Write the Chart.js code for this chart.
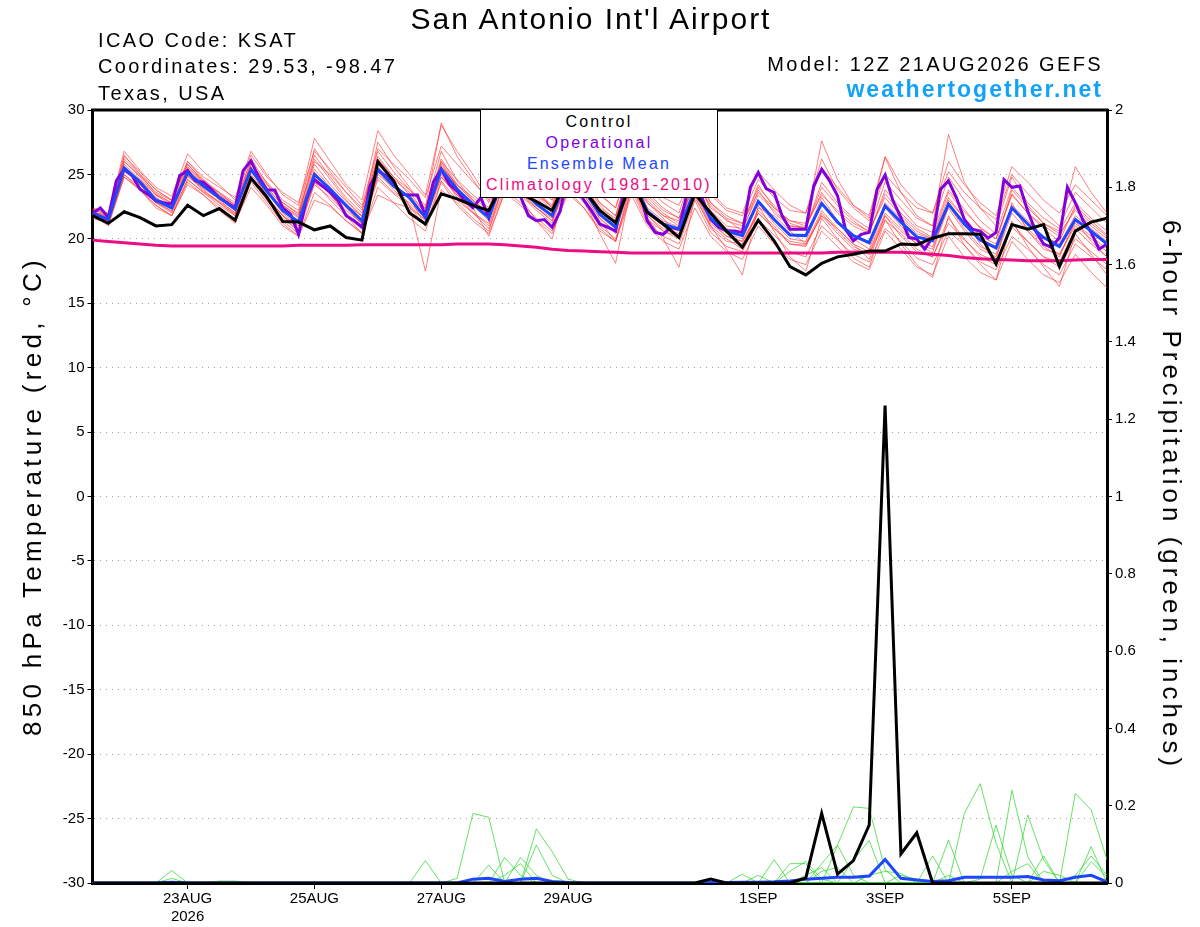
<!DOCTYPE html>
<html>
<head>
<meta charset="utf-8">
<title>San Antonio Int'l Airport - GEFS</title>
<script src="https://cdn.jsdelivr.net/npm/chart.js@4.4.1/dist/chart.umd.min.js"></script>
<style>
  html, body { margin: 0; padding: 0; background: #fff; }
  body { width: 1200px; height: 927px; position: relative; overflow: hidden;
         font-family: "Liberation Sans", Arial, sans-serif; }
  #c { position: absolute; left: 0; top: 0; }
  .txt { position: absolute; white-space: nowrap; color: #000; }
  #title { left: 0; width: 1182px; text-align: center; top: 1px; font-size: 30px; line-height: 36px; letter-spacing: 2px; }
  .info { left: 98px; font-size: 20px; line-height: 26px; letter-spacing: 2.4px; }
  #model { right: 97px; top: 51px; font-size: 20px; line-height: 26px; letter-spacing: 2.4px; }
  #site { right: 97px; top: 75px; font-size: 23px; line-height: 28px; font-weight: bold; color: #12a2f8; letter-spacing: 2px; }
  #legend { position: absolute; left: 480px; top: 109px; width: 238px; height: 89px;
            border: 1px solid #000; background: #fff; text-align: center;
            font-size: 16px; line-height: 21px; letter-spacing: 2.2px; padding-top: 1px; box-sizing: border-box; }
  .axt { position: absolute; white-space: nowrap; color: #000; font-size: 26px; line-height: 30px; }
  #ytitle { left: 32px; top: 496px; letter-spacing: 4.3px; transform: translate(-50%, -50%) rotate(-90deg); }
  #y2title { left: 1172px; top: 495px; letter-spacing: 4px; transform: translate(-50%, -50%) rotate(90deg); }
</style>
</head>
<body>
<canvas id="c" width="1200" height="927"></canvas>

<div class="txt" id="title">San Antonio Int'l Airport</div>
<div class="txt info" style="top:27px">ICAO Code: KSAT</div>
<div class="txt info" style="top:53px">Coordinates: 29.53, -98.47</div>
<div class="txt info" style="top:80px">Texas, USA</div>
<div class="txt" id="model">Model: 12Z 21AUG2026 GEFS</div>
<div class="txt" id="site">weathertogether.net</div>
<div id="legend">
  <div style="color:#000">Control</div>
  <div style="color:#8200dc">Operational</div>
  <div style="color:#1e46ff">Ensemble Mean</div>
  <div style="color:#ec0c84">Climatology (1981-2010)</div>
</div>
<div class="axt" id="ytitle">850 hPa Temperature (red, °C)</div>
<div class="axt" id="y2title">6-hour Precipitation (green, inches)</div>

<script>
// x axis = hours after 12Z 21AUG2026, 6-hourly for GEFS, 3-hourly for operational
const tickHours = [36, 84, 132, 180, 252, 300, 348];
const tickLabels = [['23AUG', '2026'], '25AUG', '27AUG', '29AUG', '1SEP', '3SEP', '5SEP'];

// 850 hPa temperature (C)
const controlT = [21.8,21.2,22.1,21.65,21.0,21.1,22.6,21.8,22.35,21.45,
  24.7,23.25,21.35,21.3,20.7,21.0,20.1,19.9,26.0,24.5,
  22.0,21.15,23.5,23.1,22.6,22.2,24.5,23.5,22.9,22.2,
  24.8,23.8,22.2,21.25,24.5,22.05,21.15,20.1,23.5,22.0,
  20.6,19.35,21.45,19.85,17.85,17.2,18.1,18.6,18.8,19.05,
  19.05,19.6,19.55,20.05,20.4,20.4,20.35,18.05,21.1,20.75,
  21.1,17.85,20.6,21.3,21.6];
const meanT = [22.0,21.5,25.5,24.4,23.0,22.4,25.15,24.1,23.2,22.3,
  25.4,23.7,22.2,21.3,25.0,23.85,22.6,21.4,25.4,24.1,
  23.2,21.65,25.4,23.85,22.7,21.65,25.0,24.0,22.7,21.8,
  25.0,23.8,21.9,20.9,24.8,22.15,21.15,20.75,23.8,21.6,
  20.6,20.25,22.9,21.5,20.3,20.25,22.75,21.3,20.25,19.7,
  22.55,21.3,20.15,19.85,22.7,21.15,19.9,19.3,22.4,21.15,
  20.1,19.4,21.5,20.6,19.6];
const operT = [22.0,22.4,21.65,24.5,25.4,24.9,23.85,23.45,22.95,22.8,
  22.7,24.9,25.3,24.5,24.4,23.85,23.2,22.8,22.4,25.3,
  26.05,24.75,23.8,23.8,22.4,21.9,20.35,23.1,24.6,24.1,
  23.6,22.95,21.8,21.4,20.9,24.1,25.3,24.9,24.25,23.45,
  23.4,23.4,21.8,24.4,25.4,24.25,23.7,22.95,22.4,23.2,
  21.65,24.0,25.3,24.5,23.3,21.8,21.4,21.5,20.9,22.15,
  25.0,24.0,23.0,22.15,21.15,20.9,20.6,23.5,25.2,23.8,
  21.4,20.5,20.35,20.9,20.75,23.5,25.0,23.0,21.5,20.9,
  20.6,20.6,20.5,24.0,25.15,23.9,23.6,21.8,20.75,20.75,
  20.75,24.1,25.4,24.5,23.35,20.75,19.85,20.35,20.5,23.85,
  24.95,22.95,21.65,20.1,20.0,19.2,20.1,23.85,24.5,23.2,
  21.5,20.75,20.6,20.05,20.5,24.6,24.0,24.1,22.15,20.6,
  19.6,19.35,20.1,24.0,22.8,21.4,20.5,19.2,19.6];
const climT = [19.9,19.8,19.7,19.6,19.5,19.45,19.45,19.45,19.45,19.45,
  19.45,19.45,19.45,19.5,19.5,19.5,19.5,19.55,19.55,19.55,
  19.55,19.55,19.55,19.6,19.6,19.6,19.55,19.45,19.35,19.2,
  19.1,19.05,19.0,18.95,18.9,18.9,18.9,18.9,18.9,18.9,
  18.9,18.9,18.9,18.9,18.9,18.9,18.9,18.95,18.95,18.95,
  18.95,18.95,18.9,18.8,18.7,18.55,18.45,18.4,18.35,18.3,
  18.3,18.3,18.35,18.4,18.4];

// ensemble members, 850 hPa temperature
const memberT = [
  [22.3,21.8,26.5,25.0,23.5,22.8,25.8,24.5,23.5,22.6,26.2,24.3,22.8,21.9,26.5,24.8,23.2,22.0,27.5,25.6,24.0,22.3,26.8,24.5,23.0,21.9,25.8,24.6,23.4,22.5,26.0,24.5,22.6,21.4,25.6,23.0,21.8,21.0,24.8,22.4,21.5,20.6,23.8,22.0,21.0,20.8,24.0,22.6,21.4,20.5,23.5,22.0,20.8,20.1,23.6,22.1,20.9,20.0,23.5,22.0,20.8,19.8,22.6,21.4,20.3],
  [21.8,21.2,25.0,24.0,22.8,22.0,24.6,23.6,22.8,21.9,24.8,23.2,21.8,20.8,24.2,23.2,22.0,20.9,24.6,23.5,22.5,21.0,24.5,23.0,22.0,20.8,23.8,22.8,21.6,20.6,23.5,22.4,20.8,19.8,23.8,21.2,20.2,19.6,23.0,20.5,19.4,19.0,21.5,20.3,19.0,18.6,21.0,19.9,18.8,18.2,20.8,19.8,18.5,18.0,20.6,19.5,18.2,17.6,20.2,19.2,18.0,17.2,19.6,18.6,17.6],
  [22.1,21.7,26.0,24.9,23.6,23.0,26.0,24.8,24.0,23.2,26.8,25.0,23.4,22.6,27.8,26.0,24.2,23.0,28.4,26.5,25.0,23.4,28.8,26.8,25.0,23.0,27.5,26.0,24.2,23.0,26.8,25.4,23.5,22.4,26.5,24.0,22.8,22.0,25.8,23.6,22.4,22.0,25.2,23.8,22.6,22.0,25.5,24.0,22.6,21.8,26.4,24.2,22.8,22.0,25.2,23.6,22.4,21.5,25.0,23.5,22.2,21.0,23.6,22.4,21.2],
  [21.9,21.0,24.8,23.8,22.6,21.8,24.2,23.4,22.4,21.3,24.0,22.6,21.0,20.2,23.0,22.5,21.4,20.5,23.4,22.8,22.4,21.5,24.8,23.4,22.1,21.0,24.2,23.4,22.4,21.6,24.2,22.8,21.0,20.0,24.0,21.5,20.6,20.0,23.4,20.8,19.8,19.6,22.0,20.8,19.6,19.5,21.8,20.4,19.2,18.8,21.4,20.4,19.2,18.6,21.2,19.9,18.8,18.2,20.9,19.8,18.6,17.8,20.0,19.0,18.0],
  [22.0,21.6,25.8,24.6,23.2,22.5,25.5,24.3,23.0,22.0,25.0,23.5,22.5,21.6,25.8,24.2,22.9,21.7,26.0,24.6,23.6,22.0,26.2,24.2,22.9,21.8,25.2,24.2,23.0,22.2,25.6,24.2,22.3,21.3,25.8,22.8,21.8,21.4,25.0,22.2,21.0,20.8,23.4,22.2,21.0,20.9,23.6,22.0,21.0,20.4,23.8,22.4,21.0,20.5,23.8,22.3,20.8,20.0,23.4,22.0,21.0,20.2,22.4,21.2,20.2],
  [21.7,21.4,25.3,24.6,23.4,22.8,24.8,24.0,23.4,22.6,25.6,23.0,21.4,20.4,24.4,23.0,21.8,20.8,25.0,24.0,23.2,21.0,26.0,24.0,22.4,20.2,23.6,24.4,23.8,22.4,24.6,23.0,21.4,19.8,24.4,22.8,21.6,20.2,23.6,21.0,20.0,19.2,22.4,21.8,20.6,19.6,22.2,20.8,19.6,18.4,21.8,20.6,19.6,18.9,23.0,21.6,19.6,18.4,22.8,20.6,19.4,18.6,21.4,19.8,18.6],
  [22.2,21.3,25.6,24.2,22.9,22.1,25.0,23.7,22.9,22.0,25.5,23.3,21.8,20.6,25.2,23.5,21.8,20.4,26.2,24.3,22.6,17.5,23.8,22.8,21.6,20.6,24.6,23.2,21.4,20.0,24.8,23.0,20.4,18.1,24.2,21.6,20.0,17.8,23.2,21.0,19.2,17.2,22.6,20.6,18.6,17.5,21.6,20.0,18.5,17.8,21.5,19.6,18.0,17.0,21.8,19.5,18.0,16.8,21.4,19.4,17.8,16.3,20.4,18.8,17.2],
  [22.4,22.0,26.8,25.3,24.0,23.3,26.6,25.2,24.2,23.0,26.5,24.8,23.6,22.8,26.8,25.4,24.0,22.6,27.0,25.8,24.6,23.2,27.2,25.8,24.4,23.2,26.6,25.2,24.0,23.0,26.4,25.0,23.4,22.4,26.2,24.4,23.2,22.6,25.6,23.4,22.2,21.8,24.6,23.2,22.2,22.0,26.2,23.8,22.4,21.4,25.0,23.6,22.4,22.0,26.0,24.2,22.8,21.8,25.6,24.4,23.0,22.0,24.2,23.0,21.8],
  [22.0,21.5,25.2,24.4,23.1,22.4,25.0,23.9,23.1,22.2,25.2,23.9,22.6,21.7,25.4,24.0,22.5,21.1,25.8,24.4,23.0,21.8,25.6,24.2,23.2,22.2,25.4,23.8,22.4,21.4,25.2,24.0,22.0,21.0,25.2,22.4,21.4,20.9,24.6,21.8,20.8,20.4,23.0,21.6,20.4,20.2,23.2,21.4,20.2,19.6,22.8,21.6,20.4,20.0,22.8,21.2,20.0,19.4,22.6,21.4,20.2,19.6,21.8,20.8,19.8],
  [21.9,21.4,25.4,24.2,22.8,22.2,24.9,23.8,22.8,21.8,24.6,23.0,21.6,20.6,24.8,23.4,22.2,21.2,24.8,23.6,22.8,21.6,25.0,23.2,22.0,21.2,24.4,23.4,22.2,21.2,24.6,23.4,21.6,20.6,24.2,21.8,20.8,20.4,23.8,21.2,20.2,19.8,22.2,21.0,19.6,19.4,22.0,20.6,19.4,18.8,21.8,20.2,19.0,18.6,21.6,20.0,18.6,18.0,21.2,19.8,18.6,18.2,20.8,19.6,18.6],
  [22.2,21.6,26.0,24.8,23.4,22.6,25.6,24.4,23.6,22.8,26.0,24.0,22.6,21.8,26.2,24.6,23.0,21.8,26.4,24.8,23.4,22.0,26.0,24.6,23.4,22.4,26.2,24.8,23.4,22.2,25.6,24.2,22.4,21.6,25.4,23.2,22.0,21.2,24.4,22.6,21.4,21.0,24.2,22.4,21.4,21.2,27.6,24.6,22.6,21.6,26.3,23.6,21.8,21.0,28.1,24.4,22.4,21.0,24.8,22.8,21.6,20.8,25.6,23.6,22.0],
  [21.6,21.2,24.8,23.8,22.4,21.8,24.6,23.6,22.6,21.8,24.6,23.2,21.8,21.0,24.4,23.6,22.6,21.8,25.2,23.8,22.6,21.4,24.8,23.4,22.6,21.6,25.0,24.2,23.2,22.0,25.4,23.8,21.8,20.8,24.8,21.8,20.6,20.2,23.8,21.4,20.2,19.8,22.0,20.8,19.8,19.6,21.8,20.8,19.6,19.0,22.0,20.8,19.6,19.2,22.4,20.6,19.2,18.6,22.0,20.6,19.2,18.8,21.0,20.0,19.0],
  [22.1,21.8,26.2,25.0,23.8,23.0,26.0,24.6,23.6,22.6,25.8,24.2,22.8,22.0,26.0,25.0,23.6,22.2,26.8,25.2,23.8,22.4,29.0,26.4,24.6,22.8,26.4,25.0,23.6,22.4,26.2,24.6,22.8,21.8,26.0,23.4,22.2,21.6,25.2,22.8,21.8,21.2,24.0,22.6,21.2,20.8,24.4,22.8,21.6,20.8,24.4,23.0,21.6,21.0,24.8,23.0,21.4,20.4,24.0,22.6,21.2,20.6,22.8,21.6,20.6],
  [21.8,21.2,25.0,23.8,22.6,21.8,24.4,23.4,22.2,21.2,24.4,22.8,21.2,20.2,23.6,22.6,21.4,20.4,24.0,22.8,21.6,20.6,24.4,22.6,21.4,20.4,23.6,22.6,21.4,20.4,23.8,22.4,20.6,19.8,23.4,21.0,19.8,19.2,22.4,20.2,19.0,18.4,21.0,19.6,18.4,18.0,20.6,19.4,18.2,17.6,20.6,19.2,17.8,17.2,20.2,18.6,17.4,16.8,19.8,18.4,17.2,16.6,18.8,17.4,16.2],
  [22.3,21.9,26.4,25.2,23.8,23.0,25.8,24.4,23.2,22.4,25.8,24.4,23.0,22.2,27.0,25.2,23.6,22.4,26.2,24.8,23.8,22.6,25.6,24.2,23.0,22.0,25.8,24.8,23.6,22.6,26.4,24.8,22.8,21.8,25.8,23.6,22.4,21.6,25.0,22.8,21.6,21.2,23.6,22.4,21.4,21.0,23.4,22.2,21.2,20.6,23.2,21.8,20.6,20.0,23.2,21.6,20.2,19.6,23.8,22.4,21.2,20.4,22.2,21.0,20.0],
  [21.9,21.5,25.6,24.4,23.0,22.4,25.4,24.2,23.2,22.2,25.2,23.6,22.0,21.0,25.0,23.8,22.4,21.2,25.6,24.2,23.2,21.8,25.8,24.0,22.6,21.4,24.8,23.6,22.4,21.4,24.6,23.4,21.6,20.4,24.8,22.0,21.0,20.6,24.2,21.6,20.4,20.0,22.8,21.2,20.0,19.8,22.8,21.2,20.0,19.2,22.4,21.0,19.8,19.4,22.6,20.8,19.4,18.8,22.4,20.8,19.6,18.8,21.2,20.2,19.2]
];

// 6-hour precipitation (inches)
const controlP = [0,0,0,0,0,0,0,0,0,0, 0,0,0,0,0,0,0,0,0,0, 0,0,0,0,0,0,0,0,0,0,
  0,0,0,0,0,0,0,0,0,0.01, 0,0,0,0,0,0.013,0.18,0.023,0.058,0.15,
  1.235,0.075,0.13,0,0,0,0,0,0,0, 0,0,0,0,0];
const meanP = [0,0,0,0,0,0.002,0,0,0,0, 0,0,0,0,0,0,0,0,0,0,
  0,0,0,0,0.01,0.012,0.004,0.01,0.012,0.004, 0.001,0,0,0,0,0,0,0,0,0.001,
  0.001,0.002,0.002,0.003,0.005,0.01,0.012,0.015,0.015,0.018,
  0.061,0.012,0.008,0.004,0.006,0.015,0.015,0.015,0.015,0.017, 0.008,0.006,0.015,0.02,0.003];
const memberP = [
  [0,0,0,0,0,0.032,0,0,0,0, 0,0,0,0,0,0,0,0,0,0, 0,0.058,0,0,0,0,0,0,0,0, 0,0,0,0,0,0,0,0,0,0, 0,0,0,0.06,0,0,0,0,0,0, 0,0,0,0.07,0,0,0,0,0,0, 0,0,0,0,0],
  [0,0,0,0,0,0,0,0,0,0, 0,0,0,0,0,0,0,0,0,0, 0,0,0,0.012,0.18,0.17,0,0,0,0, 0,0,0,0,0,0,0,0,0,0, 0,0,0,0,0,0,0,0,0,0, 0,0,0,0,0,0,0.01,0.15,0.02,0, 0,0,0,0,0],
  [0,0,0,0,0,0,0,0,0,0, 0,0,0,0,0,0,0,0,0,0, 0,0,0,0,0,0.046,0,0,0,0, 0,0,0,0,0,0,0,0,0,0, 0,0,0,0,0,0,0.05,0.098,0.197,0.193, 0.034,0,0,0,0,0,0,0,0,0, 0,0,0,0,0],
  [0,0,0,0,0,0,0,0,0,0, 0,0,0,0,0,0,0,0,0,0, 0,0,0,0,0,0,0.066,0.02,0,0, 0,0,0,0,0,0,0,0,0,0, 0,0,0,0,0,0,0,0,0,0, 0,0,0,0,0.111,0,0,0,0,0, 0,0,0,0,0],
  [0,0,0,0,0,0,0,0,0,0, 0,0,0,0,0,0,0,0,0,0, 0,0,0,0,0,0,0,0,0.14,0.081, 0.01,0,0,0,0,0,0,0,0,0, 0,0,0,0,0,0,0,0,0,0, 0,0,0,0,0,0.18,0.257,0.103,0,0, 0,0,0,0,0],
  [0,0,0,0,0,0,0,0,0,0, 0,0,0,0,0,0,0,0,0,0, 0,0,0,0,0,0,0,0.066,0.02,0, 0,0,0,0,0,0,0,0,0,0, 0,0,0,0,0,0,0,0,0,0, 0,0,0,0,0,0,0,0,0.24,0.068, 0,0,0,0,0],
  [0,0,0,0,0,0.012,0,0,0.005,0.005, 0,0,0,0,0,0,0,0,0,0, 0,0,0,0,0,0,0,0,0.098,0.02, 0,0,0,0,0,0,0,0,0,0, 0,0.023,0,0,0.03,0.056,0.01,0,0,0, 0,0,0,0,0,0,0,0,0,0.176, 0.06,0,0,0,0],
  [0,0,0,0,0,0,0,0,0,0, 0,0,0,0,0,0,0,0,0,0, 0,0,0,0,0,0,0,0,0,0, 0,0,0,0,0,0,0,0,0,0, 0,0,0,0,0,0,0,0.098,0.02,0, 0,0,0,0,0,0,0,0,0,0, 0,0,0.232,0.189,0.06],
  [0,0,0,0,0,0,0,0,0,0, 0,0,0,0,0,0,0,0,0,0, 0,0,0,0,0,0,0,0,0,0, 0,0,0,0,0,0,0,0,0,0, 0,0,0,0,0.05,0.05,0,0,0,0.02, 0.03,0.025,0,0,0,0,0,0,0,0, 0,0,0,0.094,0],
  [0,0,0,0,0,0,0,0,0,0, 0,0,0,0,0,0,0,0,0,0, 0,0,0,0,0,0,0,0,0,0, 0,0,0,0,0,0,0,0,0,0, 0,0,0.02,0,0,0,0.03,0.04,0,0, 0,0,0,0,0,0,0,0,0,0, 0.07,0,0.02,0.07,0.02],
  [0,0,0,0,0,0,0,0,0,0, 0,0,0,0,0,0,0,0,0,0, 0,0,0,0,0,0,0.02,0.05,0,0, 0,0,0,0,0,0,0,0,0,0, 0,0,0,0,0,0,0,0,0.06,0.11, 0,0,0,0,0,0,0,0,0.03,0.05, 0,0,0,0.055,0.015],
  [0,0,0,0,0,0,0,0,0,0, 0,0,0,0,0,0,0,0,0,0, 0,0,0,0,0,0,0,0,0,0, 0,0,0,0,0,0,0,0,0,0, 0,0,0,0,0,0.02,0.04,0,0,0, 0,0.02,0.01,0,0.02,0,0,0,0,0, 0.03,0.02,0,0,0]
];

const FONT = '"Liberation Sans", Arial, sans-serif';

function pts(values, stepHours) {
  return values.map((v, i) => ({ x: i * stepHours, y: v }));
}

function line(data, color, width, axis, order) {
  return { data: data, borderColor: color, borderWidth: width, yAxisID: axis,
           order: order, pointRadius: 0, tension: 0, fill: false };
}

const datasets = [];
memberT.forEach(m => datasets.push(line(pts(m, 6), 'rgba(255,55,55,0.8)', 0.8, 'y', 10)));
memberP.forEach(m => datasets.push(line(pts(m, 6), 'rgba(40,215,40,0.9)', 0.8, 'y2', 9)));
datasets.push(line(pts(climT, 6), '#ec0c84', 3, 'y', 3));
datasets.push(line(pts(operT, 3), '#8200dc', 3, 'y', 2));
datasets.push(line(pts(meanT, 6), '#1e46ff', 3, 'y', 1));
datasets.push(line(pts(meanP, 6), '#1e46ff', 3, 'y2', 1));
datasets.push(line(pts(controlT, 6), '#000', 3, 'y', 0));
datasets.push(line(pts(controlP, 6), '#000', 3, 'y2', 0));

// top edge of the plot frame
const frameTop = {
  id: 'frameTop',
  afterDatasetsDraw(chart) {
    const { ctx, chartArea: a } = chart;
    ctx.save();
    ctx.strokeStyle = '#000';
    ctx.lineWidth = 3;
    ctx.beginPath();
    ctx.moveTo(a.left - 1.5, a.top);
    ctx.lineTo(a.right + 1.5, a.top);
    ctx.stroke();
    ctx.restore();
  }
};

new Chart(document.getElementById('c'), {
  type: 'line',
  data: { datasets: datasets },
  plugins: [frameTop],
  options: {
    responsive: false,
    animation: false,
    layout: { padding: { top: 110, left: 0, right: 0, bottom: 0 } },
    plugins: { legend: { display: false }, tooltip: { enabled: false } },
    scales: {
      x: {
        type: 'linear', min: 0, max: 384,
        afterBuildTicks: s => { s.ticks = tickHours.map(v => ({ value: v })); },
        afterFit: s => { s.height = 44; },
        ticks: {
          autoSkip: false, maxRotation: 0, color: '#000', padding: 1,
          font: { family: FONT, size: 15 }, lineHeight: 1.1,
          callback: v => tickLabels[tickHours.indexOf(v)]
        },
        grid: { drawOnChartArea: false, tickLength: 6, tickColor: '#000', tickWidth: 1 },
        border: { color: '#000', width: 3 }
      },
      y: {
        position: 'left', min: -30, max: 30,
        afterFit: s => { s.width = 92.5; },
        ticks: { stepSize: 5, color: '#000', padding: 3, font: { family: FONT, size: 15 },
                 callback: v => String(v) },
        grid: { color: '#a0a0a0', lineWidth: 1, tickLength: 5, tickColor: '#000', tickWidth: 1 },
        border: { color: '#000', width: 3, dash: [1, 5] }
      },
      y2: {
        position: 'right', min: 0, max: 2,
        afterFit: s => { s.width = 93; },
        ticks: { stepSize: 0.2, color: '#000', padding: 3, font: { family: FONT, size: 15 },
                 callback: v => String(+v.toFixed(1)) },
        grid: { drawOnChartArea: false, tickLength: 5, tickColor: '#000', tickWidth: 1 },
        border: { color: '#000', width: 3 }
      }
    }
  }
});
</script>
</body>
</html>
